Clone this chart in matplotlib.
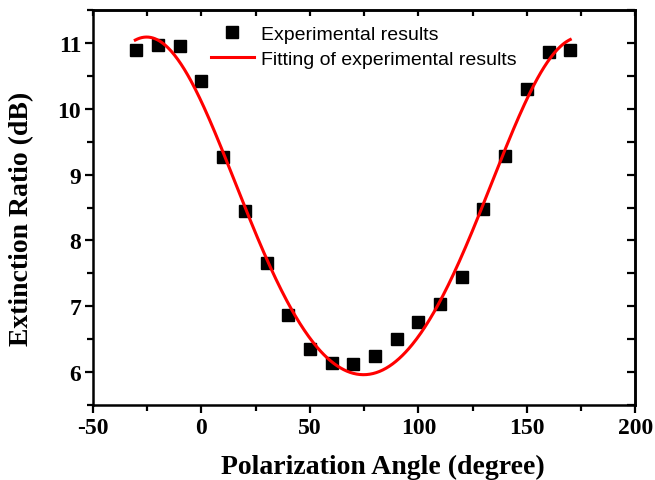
import matplotlib.pyplot as plt
import numpy as np

plt.rcParams["axes.unicode_minus"] = False

# Measured extinction ratio vs polarization angle
angle = [-30, -20, -10, 0, 10, 20, 30, 40, 50, 60, 70,
         80, 90, 100, 110, 120, 130, 140, 150, 160, 170]
ratio = [10.90, 10.97, 10.95, 10.42, 9.27, 8.45, 7.66, 6.87, 6.35, 6.14, 6.12,
         6.25, 6.50, 6.76, 7.03, 7.45, 8.47, 9.28, 10.30, 10.86, 10.90]

# Fit: ln(ER) sinusoidal, parameters
y_min, y_max, xc, w = 5.96, 11.09, 74.7, 100.0

x = np.array(angle, dtype=float)
y = np.array(ratio)
xf = np.linspace(-30.5, 170, 400)
s = (1 - np.cos(np.pi*(xf - xc)/w))/2
yf = np.exp(np.log(y_min) + (np.log(y_max) - np.log(y_min))*s)

fig, ax = plt.subplots(figsize=(6.55, 4.81), dpi=100)
fig.subplots_adjust(left=0.142, right=0.970, bottom=0.156, top=0.977)

ax.plot(x, y, "s", color="black", markersize=8.5, label="Experimental results")
ax.plot(xf, yf, "-", color="red", linewidth=2.2, label="Fitting of experimental results")

ax.set_xlim(-50, 200)
ax.set_ylim(5.5, 11.5)
ax.set_xticks(np.arange(-50, 201, 50))
ax.set_xticks(np.arange(-50, 201, 25), minor=True)
ax.set_yticks(np.arange(6, 12, 1))
ax.set_yticks(np.arange(5.5, 11.6, 0.5), minor=True)

for sp in ax.spines.values():
    sp.set_linewidth(1.8)
ax.tick_params(which="both", direction="out", width=1.6, top=False, right=False)
ax.tick_params(which="major", length=5.5, pad=3)
ax.tick_params(which="minor", length=4)

# inward ticks on top and right like Origin
sec_x = ax.secondary_xaxis("top")
sec_x.set_xticks(np.arange(-50, 201, 25))
sec_x.tick_params(direction="in", length=4.5, width=1.6, labeltop=False)
sec_y = ax.secondary_yaxis("right")
sec_y.set_yticks(np.arange(5.5, 11.6, 0.5))
sec_y.tick_params(direction="in", length=5.5, width=1.6, labelright=False)
sec_x.spines["top"].set_linewidth(1.8)
sec_y.spines["right"].set_linewidth(1.8)

for lab in ax.get_xticklabels() + ax.get_yticklabels():
    lab.set_fontfamily("Liberation Serif")
    lab.set_fontweight("bold")
    lab.set_fontsize(17)

ax.set_xlabel("Polarization Angle (degree)", family="Liberation Serif",
              fontweight="bold", fontsize=20)
ax.set_ylabel("Extinction Ratio (dB)", family="Liberation Serif",
              fontweight="bold", fontsize=20)
ax.xaxis.set_label_coords(0.535, -0.125)
ax.yaxis.set_label_coords(-0.108, 0.475)

leg = ax.legend(loc="upper left", bbox_to_anchor=(0.192, 0.995), frameon=False,
                prop={"family": "Liberation Sans", "size": 14},
                handlelength=2.2, handletextpad=0.4, borderaxespad=0.3,
                labelspacing=0.35)

plt.savefig("out.png", dpi=100)
